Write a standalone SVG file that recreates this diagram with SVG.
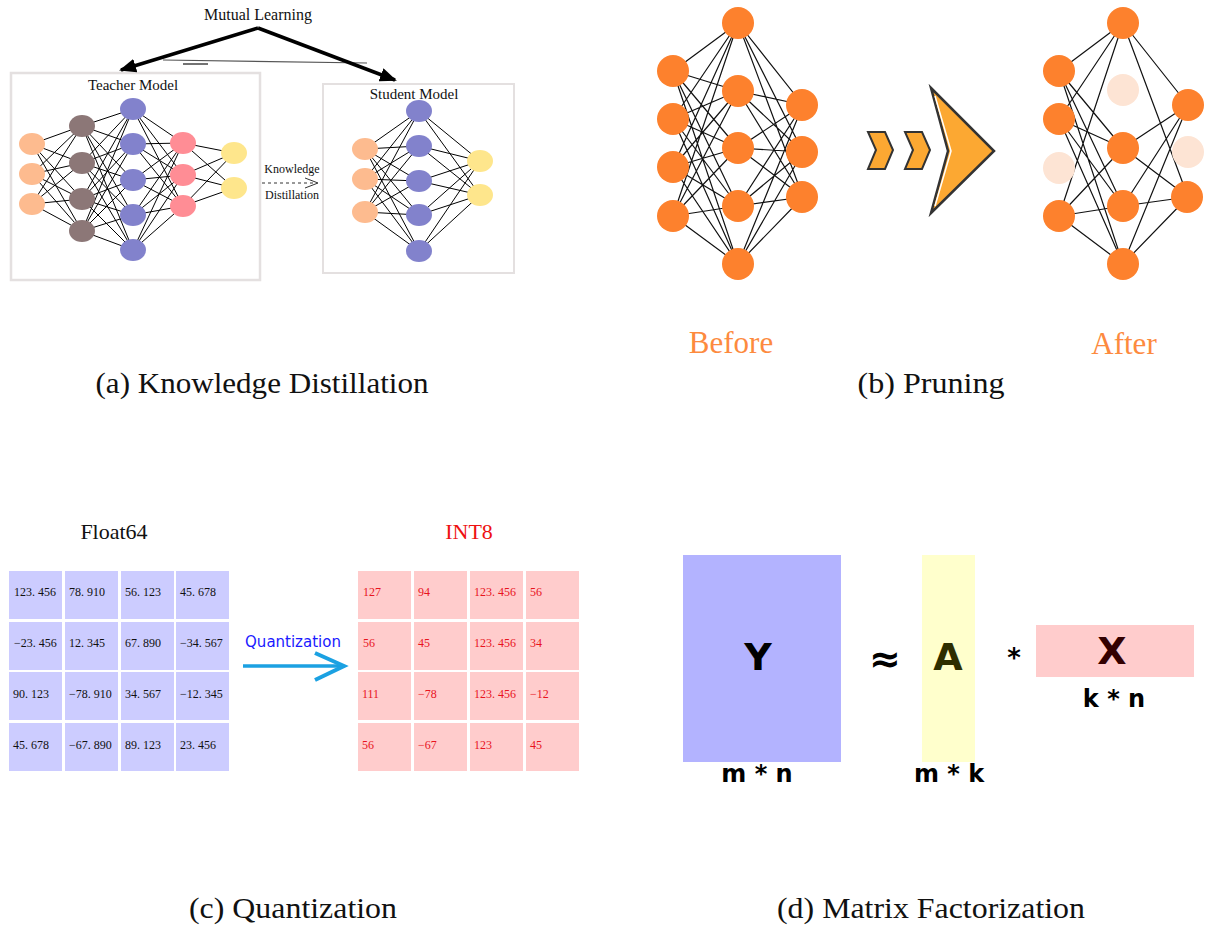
<svg xmlns="http://www.w3.org/2000/svg" width="1214" height="927" viewBox="0 0 1214 927">
<style>
.cap{font-family:"Liberation Serif",serif;font-size:30px;fill:#111;text-anchor:middle}
.disp{font-family:"Liberation Serif",serif;fill:#111;text-anchor:middle}
.edge{stroke:#000;stroke-width:1;fill:none}
.pedge{stroke:#111;stroke-width:1.2;fill:none}
.po{fill:#fd812d}
.pf{fill:#fde4d4}
.cellF{fill:#ccccff}
.cellI{fill:#ffcccc}
.numF{font-family:"Liberation Serif",serif;font-size:12px;fill:#111}
.numI{font-family:"Liberation Serif",serif;font-size:12px;fill:#e8141e}
.mf{font-family:"DejaVu Sans",sans-serif;font-weight:bold;text-anchor:middle}
</style>
<defs>
<marker id="ah" markerUnits="userSpaceOnUse" markerWidth="18" markerHeight="14" refX="15" refY="7" orient="auto">
<path d="M0 0L17 7L0 14z" fill="#000"/>
</marker>
</defs>
<rect width="1214" height="927" fill="#fff"/>

<!-- (a) Knowledge Distillation -->
<g id="mutual-learning">
<text class="disp" x="258" y="20" font-size="16">Mutual Learning</text>
<line x1="163" y1="60" x2="367" y2="63" stroke="#555" stroke-width="1.2"/>
<line x1="183" y1="64" x2="208" y2="64" stroke="#444" stroke-width="1.5"/>
</g>
<g id="teacher">
<rect x="11" y="73" width="249" height="207" fill="#fff" stroke="#e4e0e0" stroke-width="2.5"/>
<text class="disp" x="133" y="90" font-size="15">Teacher Model</text>
<path class="edge" d="M32 144L82 126M32 144L82 163M32 144L82 199M32 144L82 231M32 174L82 126M32 174L82 163M32 174L82 199M32 174L82 231M32 204L82 126M32 204L82 163M32 204L82 199M32 204L82 231
M82 126L133 109M82 126L133 144M82 126L133 180M82 126L133 215M82 126L133 250
M82 163L133 109M82 163L133 144M82 163L133 180M82 163L133 215M82 163L133 250
M82 199L133 109M82 199L133 144M82 199L133 180M82 199L133 215M82 199L133 250
M82 231L133 109M82 231L133 144M82 231L133 180M82 231L133 215M82 231L133 250
M133 109L183 143M133 109L183 175M133 109L183 206
M133 144L183 143M133 144L183 175M133 144L183 206
M133 180L183 143M133 180L183 175M133 180L183 206
M133 215L183 143M133 215L183 175M133 215L183 206
M133 250L183 143M133 250L183 175M133 250L183 206
M183 143L234 153M183 143L234 188M183 175L234 153M183 175L234 188M183 206L234 153M183 206L234 188"/>
<g fill="#fdbb8f"><ellipse cx="32" cy="144" rx="13" ry="11"/><ellipse cx="32" cy="174" rx="13" ry="11"/><ellipse cx="32" cy="204" rx="13" ry="11"/></g>
<g fill="#8c7777"><ellipse cx="82" cy="126" rx="13" ry="11"/><ellipse cx="82" cy="163" rx="13" ry="11"/><ellipse cx="82" cy="199" rx="13" ry="11"/><ellipse cx="82" cy="231" rx="13" ry="11"/></g>
<g fill="#8282cc"><ellipse cx="133" cy="109" rx="13" ry="11"/><ellipse cx="133" cy="144" rx="13" ry="11"/><ellipse cx="133" cy="180" rx="13" ry="11"/><ellipse cx="133" cy="215" rx="13" ry="11"/><ellipse cx="133" cy="250" rx="13" ry="11"/></g>
<g fill="#ff8d95"><ellipse cx="183" cy="143" rx="13" ry="11"/><ellipse cx="183" cy="175" rx="13" ry="11"/><ellipse cx="183" cy="206" rx="13" ry="11"/></g>
<g fill="#fee68c"><ellipse cx="234" cy="153" rx="13" ry="11"/><ellipse cx="234" cy="188" rx="13" ry="11"/></g>
</g>
<g id="student">
<rect x="323" y="84" width="191" height="189" fill="#fff" stroke="#e4e0e0" stroke-width="2"/>
<text class="disp" x="414" y="99" font-size="15">Student Model</text>
<path class="edge" d="M365 149L419 111M365 149L419 146M365 149L419 181M365 149L419 215M365 149L419 251
M365 179L419 111M365 179L419 146M365 179L419 181M365 179L419 215M365 179L419 251
M365 212L419 111M365 212L419 146M365 212L419 181M365 212L419 215M365 212L419 251
M419 111L480 161M419 111L480 195M419 146L480 161M419 146L480 195M419 181L480 161M419 181L480 195M419 215L480 161M419 215L480 195M419 251L480 161M419 251L480 195"/>
<g fill="#fdbb8f"><ellipse cx="365" cy="149" rx="13" ry="11"/><ellipse cx="365" cy="179" rx="13" ry="11"/><ellipse cx="365" cy="212" rx="13" ry="11"/></g>
<g fill="#8282cc"><ellipse cx="419" cy="111" rx="13" ry="11"/><ellipse cx="419" cy="146" rx="13" ry="11"/><ellipse cx="419" cy="181" rx="13" ry="11"/><ellipse cx="419" cy="215" rx="13" ry="11"/><ellipse cx="419" cy="251" rx="13" ry="11"/></g>
<g fill="#fee68c"><ellipse cx="480" cy="161" rx="13" ry="11"/><ellipse cx="480" cy="195" rx="13" ry="11"/></g>
</g>
<g id="kd-label">
<text class="disp" x="292" y="173" font-size="12">Knowledge</text>
<text class="disp" x="292" y="199" font-size="12">Distillation</text>
</g>
<g id="connectors">
<line x1="258" y1="28" x2="121" y2="70" stroke="#000" stroke-width="3.5" marker-end="url(#ah)"/>
<line x1="258" y1="28" x2="395" y2="80" stroke="#000" stroke-width="3.5" marker-end="url(#ah)"/>
<line x1="262" y1="183" x2="316" y2="183" stroke="#333" stroke-width="1" stroke-dasharray="3,3"/>
<path d="M305 178L318 183L305 188" fill="none" stroke="#333" stroke-width="1"/>
<line x1="243" y1="666" x2="343" y2="666" stroke="#1ba1e2" stroke-width="3.5"/>
<path d="M315 653L344 666L315 680" fill="none" stroke="#1ba1e2" stroke-width="4"/>
</g>
<text class="cap" x="262" y="393" textLength="333" lengthAdjust="spacingAndGlyphs">(a) Knowledge Distillation</text>

<!-- (b) Pruning -->
<g id="before">
<path class="pedge" d="M673 71L738 23M673 71L738 91M673 71L738 148M673 71L738 206M673 71L738 264
M673 119L738 23M673 119L738 91M673 119L738 148M673 119L738 206M673 119L738 264
M673 167L738 23M673 167L738 91M673 167L738 148M673 167L738 206M673 167L738 264
M673 216L738 23M673 216L738 91M673 216L738 148M673 216L738 206M673 216L738 264
M738 23L803 105M738 23L803 152M738 23L803 197
M738 91L803 105M738 91L803 152M738 91L803 197
M738 148L803 105M738 148L803 152M738 148L803 197
M738 206L803 105M738 206L803 152M738 206L803 197
M738 264L803 105M738 264L803 152M738 264L803 197"/>
<g class="po"><circle cx="673" cy="71" r="16"/><circle cx="673" cy="119" r="16"/><circle cx="673" cy="167" r="16"/><circle cx="673" cy="216" r="16"/>
<circle cx="738" cy="23" r="16"/><circle cx="738" cy="91" r="16"/><circle cx="738" cy="148" r="16"/><circle cx="738" cy="206" r="16"/><circle cx="738" cy="264" r="16"/>
<circle cx="802" cy="105" r="16"/><circle cx="802" cy="152" r="16"/><circle cx="802" cy="197" r="16"/></g>
</g>
<g id="pruning-arrow">
<path d="M868 132L885 132L893 150L885 169L868 169L876 150z" fill="#fca832" stroke="#333" stroke-width="2"/>
<path d="M905 132L922 132L930 150L922 169L905 169L913 150z" fill="#fca832" stroke="#333" stroke-width="2"/>
<path d="M931 88L994 151L931 213L948 151z" fill="#fca832" stroke="#333" stroke-width="2.5" stroke-linejoin="miter"/>
<path d="M935 96L951 151L935 206" fill="none" stroke="#fff" stroke-width="1.5"/>
</g>
<g id="after">
<path class="pedge" d="M1059 71L1123 23M1059 71L1123 148M1059 71L1123 206M1059 71L1123 264
M1059 119L1123 23M1059 119L1123 148M1059 119L1123 206M1059 119L1123 264
M1059 216L1123 23M1059 216L1123 148M1059 216L1123 206M1059 216L1123 264
M1123 23L1188 105M1123 23L1188 197M1123 148L1188 105M1123 148L1188 197
M1123 206L1188 105M1123 206L1188 197M1123 264L1188 105M1123 264L1188 197"/>
<g class="po"><circle cx="1059" cy="71" r="16"/><circle cx="1059" cy="119" r="16"/><circle cx="1059" cy="216" r="16"/>
<circle cx="1123" cy="23" r="16"/><circle cx="1123" cy="148" r="16"/><circle cx="1123" cy="206" r="16"/><circle cx="1123" cy="264" r="16"/>
<circle cx="1188" cy="105" r="16"/><circle cx="1187" cy="197" r="16"/></g>
<g class="pf"><circle cx="1059" cy="168" r="16"/><circle cx="1123" cy="90" r="16"/><circle cx="1188" cy="152" r="16"/></g>
</g>
<text x="731" y="353" font-family="Liberation Serif, serif" font-size="31" fill="#fd8a3e" text-anchor="middle">Before</text>
<text x="1124" y="354" font-family="Liberation Serif, serif" font-size="31" fill="#fd8a3e" text-anchor="middle">After</text>
<text class="cap" x="931" y="393" textLength="147" lengthAdjust="spacingAndGlyphs">(b) Pruning</text>

<!-- (c) Quantization -->
<g id="float64">
<text class="disp" x="114" y="539" font-size="22">Float64</text>
<g class="cellF">
<rect x="9" y="571" width="53" height="48"/><rect x="65" y="571" width="53" height="48"/><rect x="121" y="571" width="53" height="48"/><rect x="176" y="571" width="53" height="48"/>
<rect x="9" y="622" width="53" height="48"/><rect x="65" y="622" width="53" height="48"/><rect x="121" y="622" width="53" height="48"/><rect x="176" y="622" width="53" height="48"/>
<rect x="9" y="672" width="53" height="48"/><rect x="65" y="672" width="53" height="48"/><rect x="121" y="672" width="53" height="48"/><rect x="176" y="672" width="53" height="48"/>
<rect x="9" y="723" width="53" height="48"/><rect x="65" y="723" width="53" height="48"/><rect x="121" y="723" width="53" height="48"/><rect x="176" y="723" width="53" height="48"/>
</g>
<g class="numF">
<text x="14" y="596">123. 456</text><text x="69" y="596">78. 910</text><text x="125" y="596">56. 123</text><text x="180" y="596">45. 678</text>
<text x="14" y="647">−23. 456</text><text x="69" y="647">12. 345</text><text x="125" y="647">67. 890</text><text x="180" y="647">−34. 567</text>
<text x="13" y="698">90. 123</text><text x="69" y="698">−78. 910</text><text x="125" y="698">34. 567</text><text x="180" y="698">−12. 345</text>
<text x="13" y="749">45. 678</text><text x="69" y="749">−67. 890</text><text x="125" y="749">89. 123</text><text x="180" y="749">23. 456</text>
</g>
</g>
<g id="quantization-label">
<text x="293" y="647" font-family="DejaVu Sans, sans-serif" font-size="15" fill="#1a1aff" text-anchor="middle">Quantization</text>
</g>
<g id="int8">
<text class="disp" x="469" y="539" font-size="22" style="fill:#ee1111">INT8</text>
<g class="cellI">
<rect x="358" y="571" width="53" height="48"/><rect x="414" y="571" width="53" height="48"/><rect x="470" y="571" width="53" height="48"/><rect x="526" y="571" width="53" height="48"/>
<rect x="358" y="622" width="53" height="48"/><rect x="414" y="622" width="53" height="48"/><rect x="470" y="622" width="53" height="48"/><rect x="526" y="622" width="53" height="48"/>
<rect x="358" y="672" width="53" height="48"/><rect x="414" y="672" width="53" height="48"/><rect x="470" y="672" width="53" height="48"/><rect x="526" y="672" width="53" height="48"/>
<rect x="358" y="723" width="53" height="48"/><rect x="414" y="723" width="53" height="48"/><rect x="470" y="723" width="53" height="48"/><rect x="526" y="723" width="53" height="48"/>
</g>
<g class="numI">
<text x="363" y="596">127</text><text x="418" y="596">94</text><text x="474" y="596">123. 456</text><text x="530" y="596">56</text>
<text x="363" y="647">56</text><text x="418" y="647">45</text><text x="474" y="647">123. 456</text><text x="530" y="647">34</text>
<text x="362" y="698">111</text><text x="418" y="698">−78</text><text x="474" y="698">123. 456</text><text x="530" y="698">−12</text>
<text x="362" y="749">56</text><text x="418" y="749">−67</text><text x="474" y="749">123</text><text x="530" y="749">45</text>
</g>
</g>
<text class="cap" x="293" y="918" textLength="208" lengthAdjust="spacingAndGlyphs">(c) Quantization</text>

<!-- (d) Matrix Factorization -->
<g id="matrix-Y">
<rect x="683" y="555" width="158" height="207" fill="#b3b3ff"/>
<text class="mf" x="758" y="670" font-size="38" fill="#000">Y</text>
<text class="mf" x="757" y="782" font-size="24" fill="#000">m * n</text>
</g>
<text class="mf" x="885" y="672" font-size="38" fill="#000">≈</text>
<g id="matrix-A">
<rect x="922" y="555" width="53" height="207" fill="#ffffcc"/>
<text class="mf" x="948" y="670" font-size="38" fill="#2e2e00">A</text>
<text class="mf" x="949" y="782" font-size="24" fill="#000">m * k</text>
</g>
<text class="mf" x="1014" y="667" font-size="26" fill="#000">*</text>
<g id="matrix-X">
<rect x="1036" y="625" width="158" height="52" fill="#ffcccc"/>
<text class="mf" x="1112" y="664" font-size="38" fill="#330000">X</text>
<text class="mf" x="1114" y="707" font-size="24" fill="#000">k * n</text>
</g>
<text class="cap" x="931" y="918" textLength="308" lengthAdjust="spacingAndGlyphs">(d) Matrix Factorization</text>
</svg>
